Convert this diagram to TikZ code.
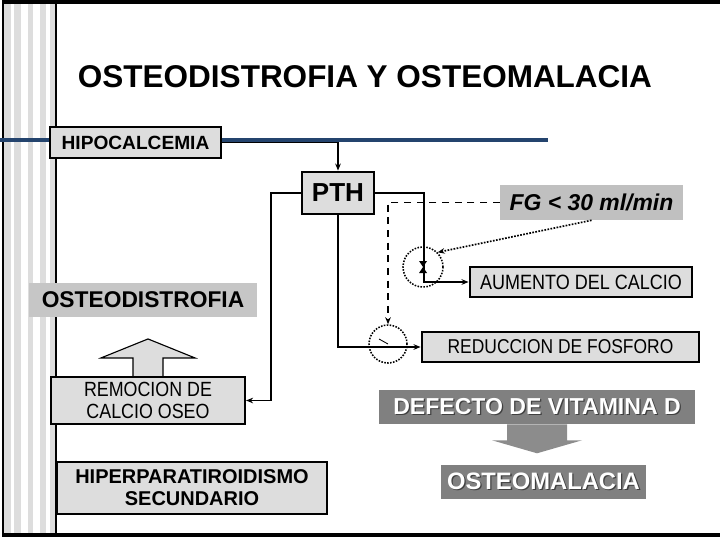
\documentclass[tikz,border=0pt]{standalone}
\usepackage{fontspec}
\setmainfont{Liberation Sans}
\usetikzlibrary{arrows.meta, positioning, calc}
\definecolor{bandblue}{RGB}{36,68,110}
\definecolor{boxgray}{RGB}{221,221,221}
\definecolor{midgray}{RGB}{192,192,192}
\definecolor{darkgray}{RGB}{128,128,128}
\definecolor{arrowgray}{RGB}{140,140,140}
\newcommand{\shadowed}[1]{\makebox[0pt][l]{\hspace{0.9pt}\raisebox{-0.9pt}{\color{black!75}#1}}{\color{white}#1}}
\newcommand{\tall}[1]{\scalebox{1}[1.15]{#1}}

\begin{document}
\begin{tikzpicture}[x=0.025cm, y=-0.025cm,
      box/.style={rectangle, draw=black, line width=2pt, fill=boxgray, inner sep=0pt, align=center},
      flat/.style={rectangle, inner sep=0pt, align=center},
      conn/.style={-{Stealth[length=5pt,width=4pt]}, line width=1.4pt},
      valve/.style={circle, draw, densely dotted, line width=1.1pt, minimum size=1cm, inner sep=0pt}
    ]
    \useasboundingbox (0,0) rectangle (720,540);

    \foreach \a/\b in {4/11,14/21,28/33,40/46,50/56}
      \fill[boxgray] (\a,2) rectangle (\b,536);
    \draw[line width=1pt] (56,2) -- (56,536);
    \draw[line width=2pt] (3,2) -- (3,536);
    \draw[line width=2.2pt] (2,2) -- (720,2);
    \draw[line width=2.8pt] (2,535) -- (720,535);
    \draw[bandblue, line width=3.5pt] (0,140) -- (548,140);

    \node[anchor=base west, font=\bfseries\fontsize{22.4}{26}\selectfont] (title) at (73,87) {OSTEODISTROFIA Y OSTEOMALACIA};

    \node[box, minimum width=4.275cm, minimum height=0.775cm, font=\bfseries\fontsize{13.6}{14}\selectfont] (hipo) at (135.5,142.5) {HIPOCALCEMIA};
    \node[box, minimum width=1.8cm, minimum height=1.05cm, font=\bfseries\fontsize{18.5}{20}\selectfont] (pth) at (338,193) {PTH};
    \node[flat, fill=midgray, minimum width=4.575cm, minimum height=0.875cm, font=\bfseries\itshape\fontsize{16.3}{18}\selectfont] (fg) at (591.5,202.5) {FG < 30 ml/min};
    \node[box, minimum width=5.55cm, minimum height=0.75cm, font=\fontsize{12.8}{14}\selectfont] (aum) at (581,282) {\tall{AUMENTO DEL CALCIO}};
    \node[box, minimum width=6.925cm, minimum height=0.75cm, font=\fontsize{12.4}{14}\selectfont] (red) at (560.5,347) {\tall{REDUCCION DE FOSFORO}};
    \node[flat, fill=midgray!90!white, minimum width=5.7cm, minimum height=0.85cm, font=\bfseries\fontsize{16.2}{18}\selectfont] (osteod) at (143,300) {OSTEODISTROFIA};
    \node[box, line width=1.5pt, minimum width=4.85cm, minimum height=1.175cm, font=\fontsize{12.7}{15.6}\selectfont] (remo) at (148,400.5) {\tall{REMOCION DE}\\\tall{CALCIO OSEO}};
    \node[box, minimum width=6.75cm, minimum height=1.3cm, font=\bfseries\fontsize{14.2}{15.6}\selectfont] (hiper) at (192,488) {HIPERPARATIROIDISMO\\SECUNDARIO};
    \node[flat, fill=darkgray, minimum width=7.9cm, minimum height=0.85cm, font=\bfseries\fontsize{16.4}{18}\selectfont] (vitd) at (537,407) {\shadowed{DEFECTO DE VITAMINA D}};
    \node[flat, fill=darkgray, minimum width=5.125cm, minimum height=0.85cm, font=\bfseries\fontsize{16.9}{18}\selectfont] (osteom) at (543.5,482) {\shadowed{OSTEOMALACIA}};

    \node[valve] (v1) at (423,267) {};
    \node[valve, minimum size=0.95cm] (v2) at (388,344) {};
    \fill (v1.center) ++(-4,-6) -- ++(8,0) -- ++(-8,12) -- ++(8,0) -- cycle;
    \draw[line width=0.6pt] (v2.center) -- ++(-9,-5);

    \draw[conn] (hipo.east) -| (pth.north);
    \draw[conn] (pth.west) -- ++(-30,0) |- (remo.east);
    \draw[conn] (pth.east) -- ++(49,0) |- (aum.west);
    \draw[conn] (pth.south) |- (red.west);
    \draw[conn, line width=1pt, dash pattern=on 5pt off 4pt] (fg.west) -| (v2.north);
    \draw[conn, line width=1.2pt, densely dotted] (fg.south) -- (v1.north east);

    \draw[fill=boxgray, line width=0.8pt] ($(remo.north)+(-15,0)$) -- ++(0,-18) -- ++(-32,0) -- ++(47,-19) -- ++(47,19) -- ++(-32,0) -- ++(0,18);
    \fill[arrowgray] ($(vitd.south)+(-30,0)$) -- ++(0,16) -- ++(-15,0) -- ++(45,13) -- ++(45,-13) -- ++(-15,0) -- ++(0,-16) -- cycle;
  \end{tikzpicture}
\end{document}
